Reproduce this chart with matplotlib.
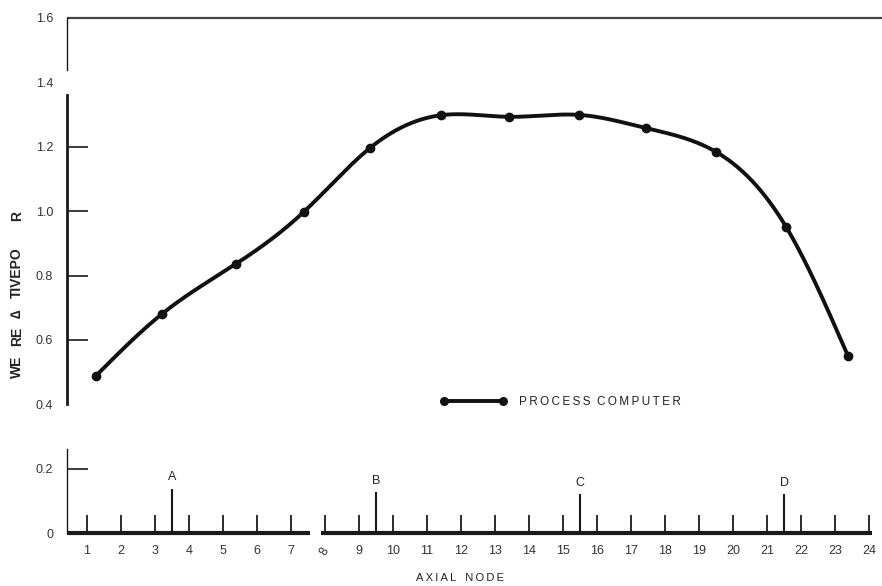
import numpy as np
import matplotlib
matplotlib.use("Agg")
import matplotlib.pyplot as plt
from matplotlib.lines import Line2D

# Measured relative power at the axial nodes
power_nodes = [1.26, 3.21, 5.38, 7.38, 9.32, 11.41, 13.41, 15.47, 17.44, 19.50, 21.56, 23.38]
power_values = [0.488, 0.681, 0.836, 0.998, 1.196, 1.298, 1.293, 1.299, 1.258, 1.184, 0.951, 0.550]

# Grid spacer positions and marker heights
spacer_nodes = [3.5, 9.5, 15.5, 21.5]
spacer_heights = [0.138, 0.126, 0.120, 0.120]
spacer_labels = ["A", "B", "C", "D"]

node_ticks = list(range(1, 25))
node_labels = [str(n) for n in node_ticks]
y_ticks = [0.0, 0.2, 0.4, 0.6, 0.8, 1.0, 1.2, 1.4, 1.6]
y_labels = ["0", "0.2", "0.4", "0.6", "0.8", "1.0", "1.2", "1.4", "1.6"]

# pieces of the vertical axis title, with their centre heights in figure pixels
title_pieces = ["WE", "RE", "\u2206", "TIVEPO", "R"]
title_centres = [367, 336, 314, 273, 216]


def natural_spline(x, y, xs):
    x = np.asarray(x, float)
    y = np.asarray(y, float)
    n = len(x)
    h = np.diff(x)
    A = np.zeros((n, n))
    b = np.zeros(n)
    A[0, 0] = A[-1, -1] = 1.0
    for i in range(1, n - 1):
        A[i, i - 1] = h[i - 1]
        A[i, i] = 2 * (h[i - 1] + h[i])
        A[i, i + 1] = h[i]
        b[i] = 6 * ((y[i + 1] - y[i]) / h[i] - (y[i] - y[i - 1]) / h[i - 1])
    M = np.linalg.solve(A, b)
    idx = np.clip(np.searchsorted(x, xs) - 1, 0, n - 2)
    x0, x1 = x[idx], x[idx + 1]
    hh = x1 - x0
    t0, t1 = x1 - xs, xs - x0
    return (M[idx] * t0 ** 3 / (6 * hh) + M[idx + 1] * t1 ** 3 / (6 * hh)
            + (y[idx] / hh - M[idx] * hh / 6) * t0
            + (y[idx + 1] / hh - M[idx + 1] * hh / 6) * t1)


plt.rcParams["font.family"] = ["Liberation Sans", "DejaVu Sans"]

fig = plt.figure(figsize=(8.82, 5.86), dpi=100)
W, H = 882, 586
ax = fig.add_axes([67 / W, (H - 533) / H, (W - 67) / W, (533 - 18) / H])
x_left, x_right = 0.412, 24.38
ax.set_xlim(x_left, x_right)
ax.set_ylim(0, 1.6)
for s in ax.spines.values():
    s.set_visible(False)

axis_col = "#1a1a1a"
# frame lines: top border, broken left axis, broken bottom axis
ax.plot([x_left, x_right], [1.6, 1.6], color="#444444", lw=1.6, clip_on=False, solid_capstyle="butt")
ax.plot([x_left, x_left], [1.44, 1.6], color=axis_col, lw=1.0, clip_on=False)
ax.plot([x_left, x_left], [0.40, 1.36], color=axis_col, lw=2.0, clip_on=False)
ax.plot([x_left, x_left], [0.0, 0.26], color=axis_col, lw=1.0, clip_on=False)
ax.plot([x_left, 7.56], [0, 0], color=axis_col, lw=3.0, clip_on=False, solid_capstyle="butt")
ax.plot([7.88, 24.1], [0, 0], color=axis_col, lw=3.0, clip_on=False, solid_capstyle="butt")

# ticks
ax.set_xticks(node_ticks)
ax.set_xticklabels(node_labels)
ax.tick_params(axis="x", direction="in", length=13, width=1.3, pad=9,
               labelsize=9, labelcolor="#333333", color=axis_col)
ax.set_yticks(y_ticks)
ax.set_yticklabels(y_labels)
ax.tick_params(axis="y", direction="in", length=15, width=1.2, pad=10,
               labelsize=9, labelcolor="#333333", color=axis_col)
for t, v in zip(ax.yaxis.get_major_ticks(), y_ticks):
    if v in (0.0, 0.4, 1.4, 1.6):
        t.tick1line.set_visible(False)
for t, v in zip(ax.xaxis.get_major_ticks(), node_ticks):
    if v == 8:
        t.label1.set_rotation(60)

# spacer markers
ax.vlines(spacer_nodes, 0, spacer_heights, color=axis_col, lw=1.5)
for xn, hgt, lab in zip(spacer_nodes, spacer_heights, spacer_labels):
    ax.text(xn, hgt + 0.035, lab, ha="center", va="center", fontsize=9, color="#222222")

# power curve
xs = np.linspace(power_nodes[0], power_nodes[-1], 600)
ax.plot(xs, natural_spline(power_nodes, power_values, xs), color="#111111", lw=2.8,
        solid_capstyle="round")
ax.plot(power_nodes, power_values, "o", color="#111111", ms=6)

sp = "\u2009"
legend_text = sp.join("PROCESS") + "  " + sp.join("COMPUTER")
handle = Line2D([], [], color="#111111", lw=2.8, marker="o", ms=5.5)
ax.legend([handle], [legend_text], loc="center left", numpoints=2,
          bbox_to_anchor=(440 / W, 1 - 402 / H), bbox_transform=fig.transFigure,
          frameon=False, borderpad=0, borderaxespad=0, handlelength=5.6,
          handletextpad=1.1, prop={"size": 8.5}, labelcolor="#222222")

for piece, yc in zip(title_pieces, title_centres):
    fig.text(17 / W, 1 - yc / H, piece, rotation=90, ha="center", va="center",
             fontsize=10, fontweight="bold", color="#222222")
fig.text(460 / W, 1 - 578 / H, sp.join("AXIAL") + "   " + sp.join("NODE"),
         ha="center", va="center", fontsize=8, color="#222222")

fig.savefig("out.png", dpi=100)
